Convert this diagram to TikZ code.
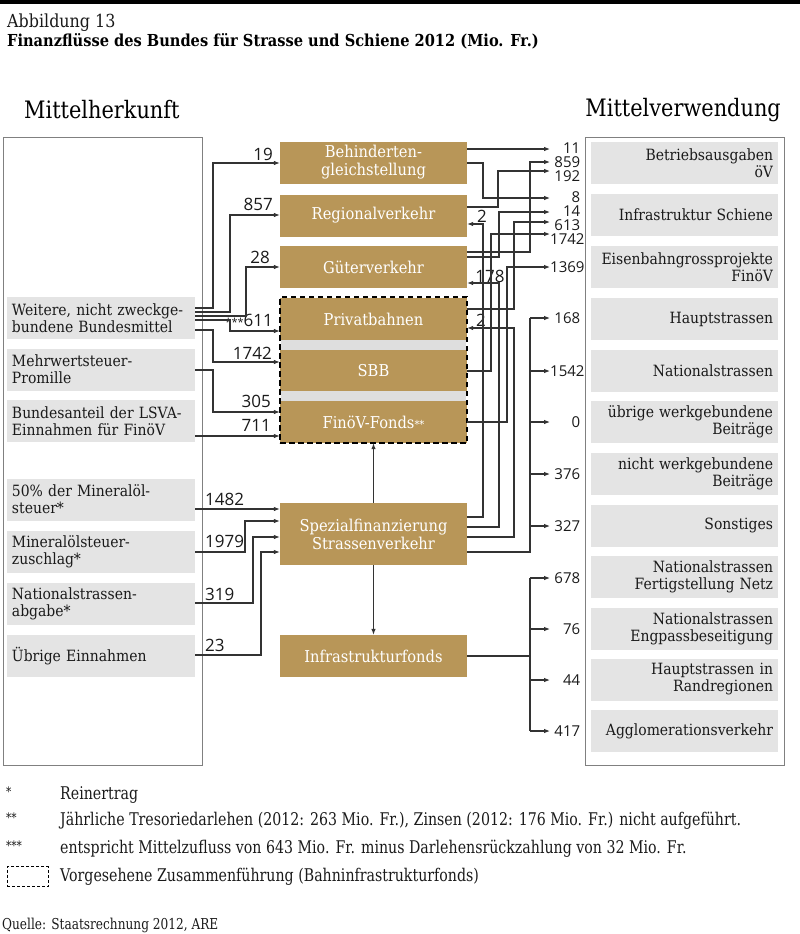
\documentclass[tikz,border=0pt]{standalone}
\usepackage{fontspec}
\setmainfont{DejaVu Serif}
\newfontfamily\boxf[FakeStretch=0.9]{DejaVu Serif}
\newfontfamily\condf[FakeStretch=0.81]{DejaVu Serif}
\newfontfamily\headf[FakeStretch=0.87]{DejaVu Serif}
\newfontfamily\ttlf[FakeStretch=0.885]{DejaVu Serif}
\newfontfamily\numf{Open Sans}
\usetikzlibrary{arrows.meta}
\definecolor{gold}{HTML}{B89658}
\definecolor{lgray}{HTML}{E4E4E4}
\definecolor{strip}{HTML}{DEDEDE}
\definecolor{lnc}{HTML}{333333}
\definecolor{bord}{HTML}{808080}
\definecolor{txt}{HTML}{1A1A1A}
\newcommand\mbx[1]{\mbox{#1}}
\tikzset{
  gbox/.style={fill=gold, text=white, font=\boxf\fontsize{16.3}{18}\selectfont, minimum width=187pt, minimum height=42pt, inner sep=0pt, align=center},
  lbox/.style={fill=lgray, text=txt, font=\boxf\fontsize{15.5}{17}\selectfont, minimum width=188pt, minimum height=42pt, inner sep=0pt, text width=178pt, align=left},
  rbox/.style={lbox, minimum width=187pt, text width=177pt, align=right},
  framebox/.style={draw=bord, line width=0.9pt, inner sep=0pt},
  conn/.style={draw=lnc, line width=1.1pt},
  arr/.style={conn, -{Latex[length=6pt,width=4.6pt]}},
  numl/.style={font=\numf\fontsize{17}{17}\selectfont, text=txt, inner sep=0pt, text height=12pt, text depth=0pt},
  numr/.style={font=\numf\fontsize{15}{15}\selectfont, text=txt, inner sep=0pt, anchor=west, text width=30pt, align=right, text height=10.5pt, text depth=0pt},
  note/.style={font=\condf\fontsize{17.5}{17.5}\selectfont, text=txt, inner sep=0pt, anchor=west},
  fnmark/.style={font=\condf\fontsize{13}{13}\selectfont, text=txt, inner sep=0pt, anchor=west},
}
\begin{document}
\begin{tikzpicture}[x=1pt,y=-1pt]
\useasboundingbox (0,0) rectangle (800,934);
\fill[black] (0,0) rectangle (800,4.5);

% titles
\node[anchor=west, inner sep=0pt, text=txt, font=\ttlf\fontsize{18}{18}\selectfont] (abb) at (7,22.5) {Abbildung 13};
\node[anchor=west, inner sep=0pt, text=black, font=\ttlf\bfseries\fontsize{16.5}{16.5}\selectfont] (ttl) at (7,41) {Finanzflüsse des Bundes für Strasse und Schiene 2012 (Mio. Fr.)};
\node[anchor=west, inner sep=0pt, text=black, font=\headf\fontsize{24}{24}\selectfont] (hl) at (24,110) {Mittelherkunft};
\node[anchor=east, inner sep=0pt, text=black, font=\headf\fontsize{24}{24}\selectfont] (hr) at (781,110) {Mittelverwendung};

% frames
\node[framebox, minimum width=199pt, minimum height=628pt] (lframe) at (102.5,451) {};
\node[framebox, minimum width=199pt, minimum height=628pt] (rframe) at (684.5,451) {};

% left boxes
\node[lbox] (wei) at (101,318) {\mbx{Weitere, nicht zweckge-}\\\mbx{bundene Bundesmittel}};
\node[lbox] (mwst) at (101,369.5) {\mbx{Mehrwertsteuer-}\\\mbx{Promille}};
\node[lbox] (lsva) at (101,421) {\mbx{Bundesanteil der LSVA-}\\\mbx{Einnahmen für FinöV}};
\node[lbox] (min) at (101,499.5) {\mbx{50\% der Mineralöl-}\\\mbx{steuer*}};
\node[lbox] (minz) at (101,551.5) {\mbx{Mineralölsteuer-}\\\mbx{zuschlag*}};
\node[lbox] (nsa) at (101,603.5) {\mbx{Nationalstrassen-}\\\mbx{abgabe*}};
\node[lbox] (ueb) at (101,656) {\mbx{Übrige Einnahmen}};

% right boxes
\node[rbox] (r1) at (684.5,163) {\mbx{Betriebsausgaben}\\\mbx{öV}};
\node[rbox] (r2) at (684.5,215) {\mbx{Infrastruktur Schiene}};
\node[rbox] (r3) at (684.5,267) {\mbx{Eisenbahngrossprojekte}\\\mbx{FinöV}};
\node[rbox] (r4) at (684.5,319) {\mbx{Hauptstrassen}};
\node[rbox] (r5) at (684.5,370.5) {\mbx{Nationalstrassen}};
\node[rbox] (r6) at (684.5,422) {\mbx{übrige werkgebundene}\\\mbx{Beiträge}};
\node[rbox] (r7) at (684.5,473.5) {\mbx{nicht werkgebundene}\\\mbx{Beiträge}};
\node[rbox] (r8) at (684.5,525.5) {\mbx{Sonstiges}};
\node[rbox] (r9) at (684.5,577) {\mbx{Nationalstrassen}\\\mbx{Fertigstellung Netz}};
\node[rbox] (r10) at (684.5,628.5) {\mbx{Nationalstrassen}\\\mbx{Engpassbeseitigung}};
\node[rbox] (r11) at (684.5,679.5) {\mbx{Hauptstrassen in}\\\mbx{Randregionen}};
\node[rbox] (r12) at (684.5,731) {\mbx{Agglomerationsverkehr}};

% central boxes
\node[gbox] (beh) at (373.5,162.5) {Behinderten-\\gleichstellung};
\node[gbox] (reg) at (373.5,215.5) {Regionalverkehr};
\node[gbox] (gut) at (373.5,267) {Güterverkehr};
\fill[strip] (281,340) rectangle (466,350);
\fill[strip] (281,391) rectangle (466,401);
\node[gbox] (priv) at (373.5,319) {Privatbahnen};
\node[gbox, minimum height=41pt] (sbb) at (373.5,370.5) {SBB};
\node[gbox] (fin) at (373.5,422) {FinöV-Fonds{\fontsize{11}{11}\selectfont**}};
\node[draw=black, line width=2.6pt, dash pattern=on 5.5pt off 3.5pt, minimum width=187pt, minimum height=146pt, inner sep=0pt] (grp) at (373.5,370) {};
\node[gbox, minimum height=62pt] (spez) at (373.5,534) {Spezialfinanzierung\\Strassenverkehr};
\node[gbox] (inf) at (373.5,656) {Infrastrukturfonds};

% right numbers
\node[numr] (n11) at (550,148) {11};
\node[numr] (n859) at (550,162.5) {859};
\node[numr] (n192) at (550,176.5) {192};
\node[numr] (n8) at (550,197) {8};
\node[numr] (n14) at (550,211.5) {14};
\node[numr] (n613) at (550,225) {613};
\node[numr] (n1742) at (550,239) {1742};
\node[numr] (n1369) at (550,267) {1369};
\node[numr] (n168) at (550,318) {168};
\node[numr] (n1542) at (550,371) {1542};
\node[numr] (n0) at (550,422) {0};
\node[numr] (n376) at (550,474) {376};
\node[numr] (n327) at (550,526) {327};
\node[numr] (n678) at (550,578) {678};
\node[numr] (n76) at (550,629) {76};
\node[numr] (n44) at (550,680) {44};
\node[numr] (n417) at (550,731) {417};

% left flow labels
\node[numl, anchor=east] (l19) at (273,154) {19};
\node[numl, anchor=east] (l857) at (273,204) {857};
\node[numl, anchor=east] (l28) at (270,257) {28};
\node[numl, anchor=east] (l611) at (273,320) {{\fontsize{11}{11}\selectfont***}611};
\node[numl, anchor=east] (l1742) at (272,353) {1742};
\node[numl, anchor=east] (l305) at (271,401) {305};
\node[numl, anchor=east] (l711) at (271,425) {711};
\node[numl, anchor=west] (l1482) at (205,499) {1482};
\node[numl, anchor=west] (l1979) at (205,541) {1979};
\node[numl, anchor=west] (l319) at (205,594) {319};
\node[numl, anchor=west] (l23) at (205,645) {23};
\node[numl] (c2a) at (482,216) {2};
\node[numl] (c178) at (490,276) {178};
\node[numl] (c2b) at (481,320) {2};

% left connectors
\draw[arr] (wei.east |- 0,308) -- (213,308) -- (213,163) -- (beh.west |- 0,163);
\draw[arr] (wei.east |- 0,312) -- (230,312) -- (230,215) -- (reg.west |- 0,215);
\draw[arr] (wei.east |- 0,316) -- (246,316) -- (246,267) -- (gut.west |- 0,267);
\draw[arr] (wei.east |- 0,320) -- (230,320) -- (230,331) -- (priv.west |- 0,331);
\draw[arr] (wei.east |- 0,330) -- (213,330) -- (213,362) -- (sbb.west |- 0,362);
\draw[arr] (mwst.east |- 0,370) -- (213,370) -- (213,412) -- (fin.west |- 0,412);
\draw[arr] (lsva.east |- 0,436) -- (fin.west |- 0,436);
\draw[arr] (min.east |- 0,509) -- (spez.west |- 0,509);
\draw[arr] (minz.east |- 0,552) -- (245,552) -- (245,521) -- (spez.west |- 0,521);
\draw[arr] (nsa.east |- 0,603) -- (253,603) -- (253,537) -- (spez.west |- 0,537);
\draw[arr] (ueb.east |- 0,655) -- (261,655) -- (261,552) -- (spez.west |- 0,552);

% central vertical
\draw[arr] (spez.north) -- (fin.south);
\draw[arr] (spez.south) -- (inf.north);

% right connectors (upper)
\draw[arr] (beh.east |- 0,149) -- (n11.west |- 0,149);
\draw[arr] (beh.east |- 0,163) -- (483,163) -- (483,198) -- (n8.west |- 0,198);
\draw[arr] (gut.east |- 0,252) -- (530,252) -- (530,162) -- (n859.west |- 0,162);
\draw[arr] (reg.east |- 0,207) -- (498,207) -- (498,171) -- (n192.west |- 0,171);
\draw[arr] (gut.east |- 0,257) -- (499,257) -- (499,212) -- (n14.west |- 0,212);
\draw[arr] (priv.east |- 0,309) -- (514,309) -- (514,222) -- (n613.west |- 0,222);
\draw[arr] (sbb.east |- 0,371) -- (491,371) -- (491,234) -- (n1742.west |- 0,234);
\draw[arr] (fin.east |- 0,422) -- (507,422) -- (507,267) -- (n1369.west |- 0,267);
\draw[arr] (spez.east |- 0,517) -- (483,517) -- (483,224) -- (reg.east |- 0,224);
\draw[arr] (spez.east |- 0,527) -- (499,527) -- (499,283) -- (gut.east |- 0,283);
\draw[arr] (spez.east |- 0,537) -- (514,537) -- (514,328) -- (priv.east |- 0,328);

% right connectors (roads)
\draw[conn] (spez.east |- 0,552) -- (530,552) -- (530,318);
\draw[arr] (530,318) -- (n168.west |- 0,318);
\draw[arr] (530,371) -- (n1542.west |- 0,371);
\draw[arr] (530,422) -- (n0.west |- 0,422);
\draw[arr] (530,474) -- (n376.west |- 0,474);
\draw[arr] (530,526) -- (n327.west |- 0,526);
\draw[conn] (inf.east) -- (530,656);
\draw[conn] (530,578) -- (530,731);
\draw[arr] (530,578) -- (n678.west |- 0,578);
\draw[arr] (530,629) -- (n76.west |- 0,629);
\draw[arr] (530,680) -- (n44.west |- 0,680);
\draw[arr] (530,731) -- (n417.west |- 0,731);

% notes
\node[fnmark] (m1) at (6,792) {*};
\node[note] (f1) at (60,795) {Reinertrag};
\node[fnmark] (m2) at (6,818) {**};
\node[note] (f2) at (60,821) {Jährliche Tresoriedarlehen (2012: 263 Mio. Fr.), Zinsen (2012: 176 Mio. Fr.) nicht aufgeführt.};
\node[fnmark] (m3) at (6,846) {***};
\node[note] (f3) at (60,849) {entspricht Mittelzufluss von 643 Mio. Fr. minus Darlehensrückzahlung von 32 Mio. Fr.};
\node[draw=black, line width=1pt, dash pattern=on 3pt off 2pt, minimum width=41pt, minimum height=20pt, inner sep=0pt] (legbox) at (27.5,876.5) {};
\node[note] (f4) at (60,877) {Vorgesehene Zusammenführung (Bahninfrastrukturfonds)};
\node[anchor=west, inner sep=0pt, text=txt, font=\condf\fontsize{15}{15}\selectfont] (src) at (2,925) {Quelle: Staatsrechnung 2012, ARE};
\end{tikzpicture}
\end{document}
